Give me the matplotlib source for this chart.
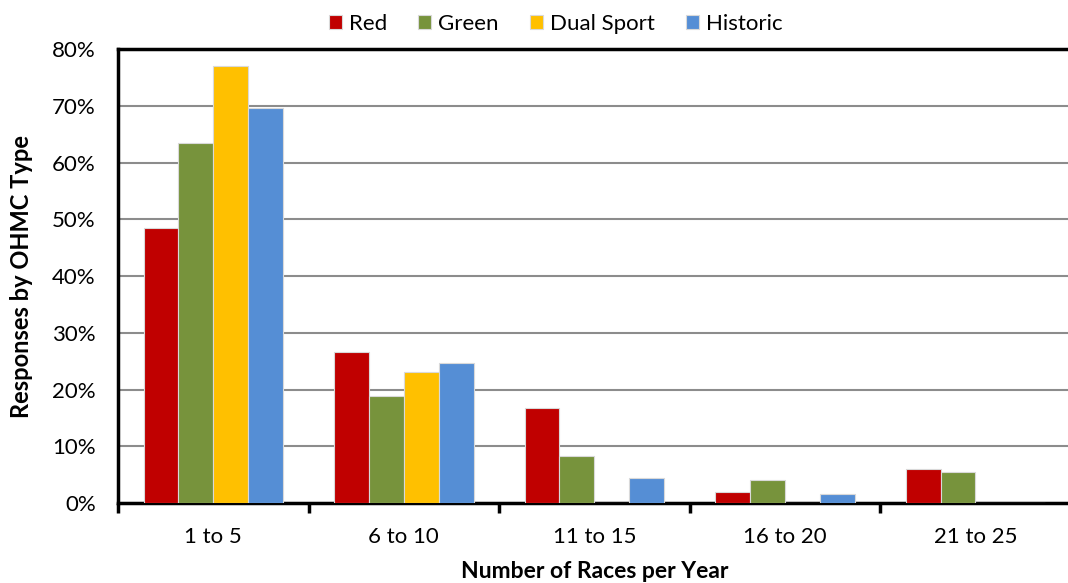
import matplotlib.pyplot as plt
import numpy as np

plt.rcParams['font.family'] = ['Lato', 'DejaVu Sans']

categories = ['1 to 5', '6 to 10', '11 to 15', '16 to 20', '21 to 25']
series_names = ['Red', 'Green', 'Dual Sport', 'Historic']
red = [48.4, 26.7, 16.8, 1.9, 6.0]
green = [63.4, 18.9, 8.3, 4.1, 5.5]
dual_sport = [77.0, 23.1, 0, 0, 0]
historic = [69.6, 24.7, 4.4, 1.6, 0]
colors = ['#C00000', '#77933C', '#FFC000', '#558ED5']

fig = plt.figure(figsize=(10.68, 5.83), dpi=100)
ax = fig.add_axes([0.1105, 0.137, 0.892, 0.779])

x = np.arange(len(categories))
w = 0.183
for i, (name, vals) in enumerate(zip(series_names, [red, green, dual_sport, historic])):
    ax.bar(x + (i - 1.5) * w, vals, width=w, color=colors[i], label=name,
           edgecolor='#D9D9D9', linewidth=0.8, zorder=3)

ax.set_xlim(-0.5, len(categories) - 0.5)
ax.set_ylim(0, 80)
ax.set_yticks(range(0, 81, 10))
ax.set_yticklabels([f'{v}%' for v in range(0, 81, 10)], fontsize=16)
ax.set_xticks(x)
ax.set_xticklabels(categories, fontsize=16)
ax.set_xticks(np.arange(-0.5, len(categories)), minor=True)
ax.tick_params(axis='x', which='major', length=0, pad=17)
ax.tick_params(axis='x', which='minor', length=7, width=2.5, direction='out')
ax.tick_params(axis='y', length=0, pad=16)
ax.grid(axis='y', color='#8C8C8C', linewidth=1.5, zorder=0)

for s in ['left', 'top', 'bottom']:
    ax.spines[s].set_linewidth(2.5)
    ax.spines[s].set_color('black')
ax.spines['right'].set_visible(False)

ax.set_xlabel('Number of Races per Year', fontsize=16.5, fontweight='bold', labelpad=10)
ax.set_ylabel('Responses by OHMC Type', fontsize=17, fontweight='bold', labelpad=14)

fig.legend(loc='upper center', bbox_to_anchor=(0.52, 1.01), ncol=4, frameon=False,
           fontsize=16, handlelength=0.6, handleheight=0.6, handletextpad=0.3,
           columnspacing=1.4)

fig.savefig('out.png', dpi=100)
